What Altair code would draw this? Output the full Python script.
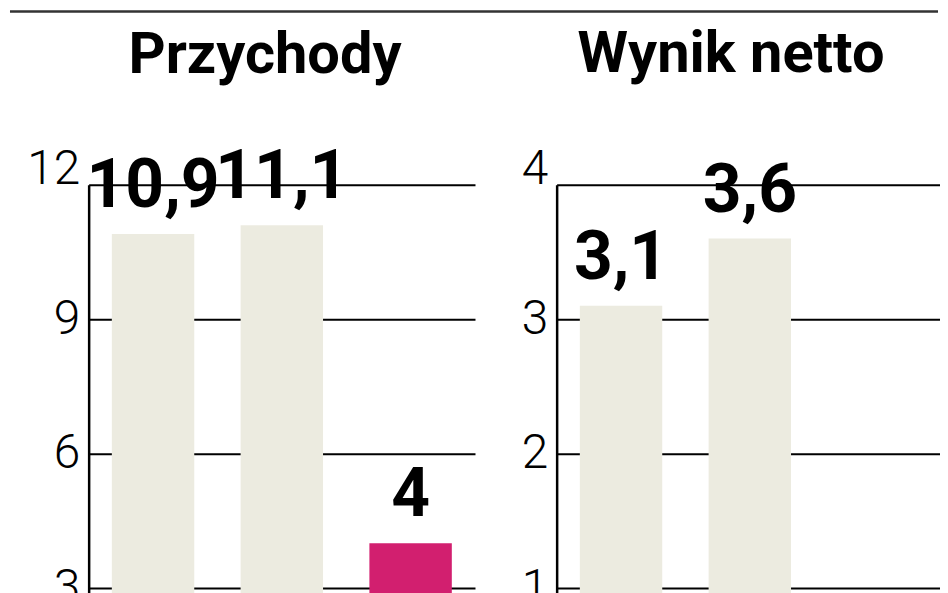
import altair as alt
import pandas as pd

periods = ["okres 1", "okres 2", "okres 3"]
przychody = [10.9, 11.1, 4.0]
wynik_netto = [3.1, 3.6, None]
titles = ["Przychody", "Wynik netto"]
ticks_left = [0, 3, 6, 9, 12]
ticks_right = [0, 1, 2, 3, 4]

BEIGE = "#ECEBE0"
MAGENTA = "#D21F6F"
FONT = "Roboto"
H = 540


def panel(values, ticks, title, dx, offset, width, step_width):
    df = pd.DataFrame({"period": periods, "value": values})
    top = ticks[-1]
    base = alt.Chart(df).transform_filter("isValid(datum.value)").transform_calculate(
        label="replace(toString(datum.value), '.', ',')"
    )
    x = alt.X(
        "period:N",
        sort=periods,
        scale=alt.Scale(
            domain=periods,
            paddingInner=0.36,
            paddingOuter=0.18,
            range=[0, step_width],
        ),
        axis=None,
    )
    y = alt.Y(
        "value:Q",
        scale=alt.Scale(domain=[0, top], nice=False, zero=True),
        axis=alt.Axis(
            values=ticks,
            format="d",
            title=None,
            grid=True,
            gridColor="black",
            gridWidth=2,
            domainColor="black",
            domainWidth=2.5,
            ticks=False,
            labelFont=FONT,
            labelFontWeight=300,
            labelFontSize=48,
            labelColor="black",
            labelPadding=9,
            labelOffset={"condition": {"test": f"datum.value == {top}", "value": -15}, "value": 0},
        ),
    )
    bars = base.mark_bar().encode(
        x=x,
        y=y,
        color=alt.condition(alt.datum.period == periods[2], alt.value(MAGENTA), alt.value(BEIGE)),
    )
    text = base.mark_text(
        font=FONT, fontWeight="bold", fontSize=68, baseline="alphabetic", dy=-27, color="black"
    ).encode(x=x, y="value:Q", text="label:N")
    return alt.layer(bars, text).properties(
        width=width,
        height=H,
        title=alt.TitleParams(
            text=title,
            font=FONT,
            fontWeight="bold",
            fontSize=58,
            color="black",
            frame="group",
            anchor="start",
            dx=dx,
            offset=offset,
        ),
    )


left = panel(przychody, ticks_left, titles[0], 40, 60, 388, 388)
right = panel(wynik_netto, ticks_right, titles[1], 21, 62, 383, 388)

rule = (
    alt.Chart(pd.DataFrame({"r": [0]}))
    .mark_rule(color="#333333", strokeWidth=2.5)
    .encode(x=alt.value(-79), x2=alt.value(853), y=alt.value(0))
    .properties(width=388, height=1)
)

chart = alt.vconcat(
    rule,
    alt.hconcat(left, right, spacing=82, bounds="flush"),
    spacing=173,
    bounds="flush",
    padding={"left": 0, "top": 0, "right": 0, "bottom": 0},
).configure_view(strokeWidth=0, stroke="transparent")

chart.save("out.html", embed_options={"renderer": "svg", "actions": False})
